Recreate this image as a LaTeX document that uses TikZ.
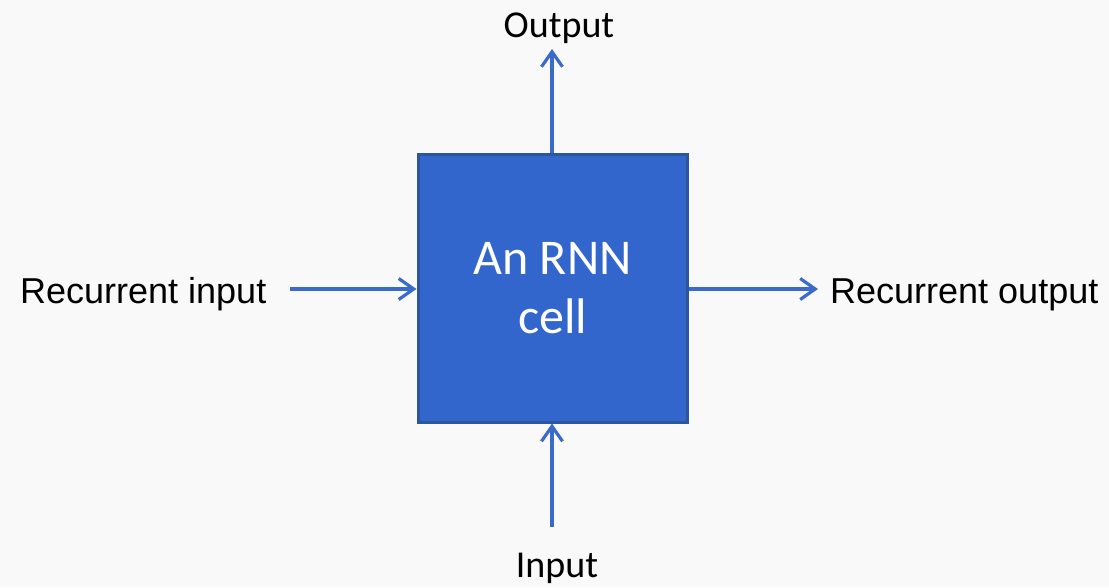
\documentclass[tikz,border=0pt]{standalone}
\usepackage{fontspec}
\setmainfont{Carlito}
\newfontfamily\arialfont{Liberation Sans}
\usetikzlibrary{arrows.meta}
\definecolor{cellfill}{HTML}{3366CC}
\definecolor{cellborder}{HTML}{2C559E}
\definecolor{flow}{HTML}{3A6BC8}
\definecolor{paper}{HTML}{F9F9F9}
\tikzset{
  cellbox/.style={draw=cellborder, line width=3pt, fill=cellfill, minimum width=269pt, minimum height=268pt, inner sep=0pt, text=white, align=center, font=\fontsize{50}{59}\selectfont},
  flowarrow/.style={draw=flow, line width=3.2pt, -{Straight Barb[length=15pt, width=21pt, line width=3.2pt]}},
  sidelabel/.style={inner sep=0pt, anchor=base, font=\arialfont\fontsize{36}{40}\selectfont},
  endlabel/.style={inner sep=0pt, anchor=base, font=\fontsize{38}{42}\selectfont}
}
\begin{document}
\begin{tikzpicture}[x=1pt, y=-1pt]
  \fill[paper] (0,0) rectangle (1109,587);
  \useasboundingbox (0,0) rectangle (1109,587);
  % the cell
  \node[cellbox] (cell) at (552.5,288) {An RNN\\cell};
  % labels
  \node[endlabel] (out) at (559,37) {Output};
  \node[endlabel] (in) at (557,577) {Input};
  \node[sidelabel, anchor=base west] (rin) at (20,303) {Recurrent input};
  \node[sidelabel, anchor=base west] (rout) at (830,303) {Recurrent output};
  % free ends of the connectors
  \coordinate (outtip) at (552,49);
  \coordinate (inbase) at (552,527);
  \coordinate (rinbase) at (290,289);
  \coordinate (routtip) at (818,289);
  % connectors
  \draw[flowarrow] (cell.north -| outtip) -- (outtip);
  \draw[flowarrow] (inbase) -- (cell.south -| inbase);
  \draw[flowarrow] (rinbase) -- (cell.west |- rinbase);
  \draw[flowarrow] (cell.east |- routtip) -- (routtip);
\end{tikzpicture}
\end{document}
